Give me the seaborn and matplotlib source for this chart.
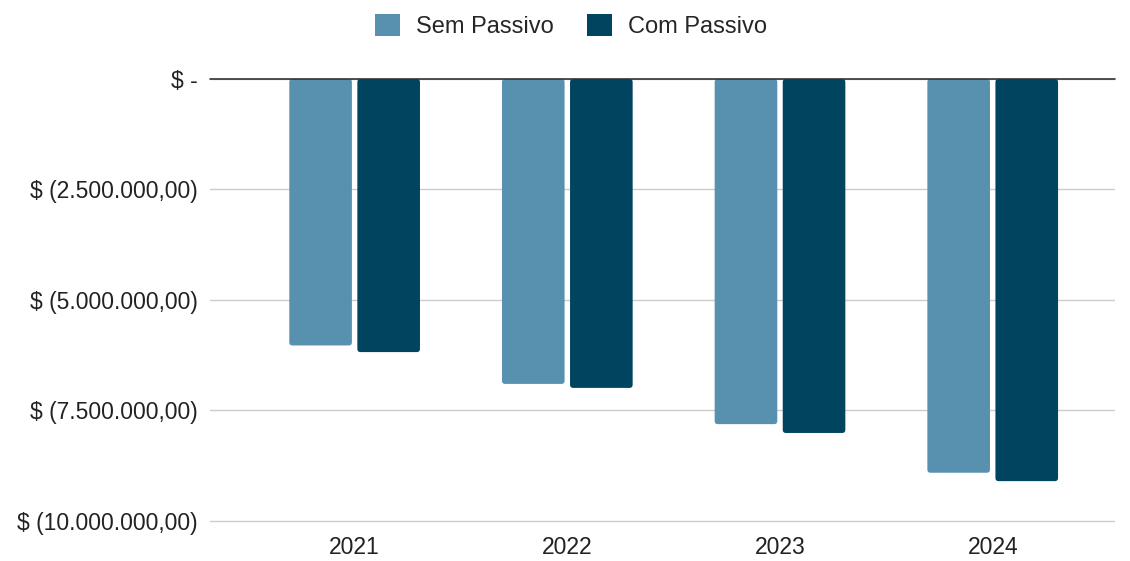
import numpy as np
import pandas as pd
import matplotlib.pyplot as plt
import seaborn as sns
from matplotlib.patches import FancyBboxPatch
from matplotlib.ticker import FuncFormatter

# chart data
years = ["2021", "2022", "2023", "2024"]
sem_passivo = [-6030000, -6900000, -7810000, -8910000]
com_passivo = [-6180000, -6990000, -8010000, -9100000]
series_names = ["Sem Passivo", "Com Passivo"]
colors = ["#5891AF", "#00445F"]

df = pd.DataFrame({
    "ano": years * 2,
    "valor": sem_passivo + com_passivo,
    "serie": [series_names[0]] * 4 + [series_names[1]] * 4,
})

sns.set_theme(style="white")
plt.rcParams["font.family"] = ["Liberation Sans", "DejaVu Sans"]

fig = plt.figure(figsize=(11.3, 5.61), dpi=100)
ax = fig.add_axes([210 / 1130, 37 / 561, 905 / 1130, 445 / 561])

sns.barplot(data=df, x="ano", y="valor", hue="serie", palette=colors,
            width=0.64, gap=0.08, ax=ax, saturation=1, legend=False)

# replace bars with slightly rounded ones
for p in list(ax.patches):
    x, y = p.get_x(), p.get_y()
    w, h = p.get_width(), p.get_height()
    rb = FancyBboxPatch((x, y + h), w, -h, boxstyle="round,pad=0,rounding_size=0.015",
                        mutation_aspect=4.8e6, facecolor=p.get_facecolor(),
                        edgecolor="none", linewidth=0)
    p.remove()
    ax.add_patch(rb)

ax.set_xlim(-0.68, 3.575)
ax.set_ylim(-10070000, 0)
ax.set_yticks([0, -2500000, -5000000, -7500000, -10000000])


def fmt(v, pos):
    if v == 0:
        return "$ -"
    s = f"{abs(v):,.2f}".replace(",", "X").replace(".", ",").replace("X", ".")
    return f"$ ({s})"


ax.yaxis.set_major_formatter(FuncFormatter(fmt))
ax.grid(axis="y", color="#cccccc", linewidth=1)
ax.set_axisbelow(True)
ax.axhline(0, color="#333333", linewidth=1.2, zorder=5, clip_on=False)
for s in ax.spines.values():
    s.set_visible(False)
ax.tick_params(axis="both", length=0, labelsize=16.5, colors="#222222")
ax.tick_params(axis="y", pad=9)
ax.tick_params(axis="x", pad=9)
ax.set_xlabel("")
ax.set_ylabel("")

handles = [plt.Rectangle((0, 0), 1, 1, facecolor=c, edgecolor="none") for c in colors]
fig.legend(handles, series_names, loc="center", bbox_to_anchor=(571 / 1130, 1 - 26 / 561),
           ncol=2, frameon=False, fontsize=17, handlelength=1.05, handleheight=1.05,
           columnspacing=1.4, handletextpad=0.68)

fig.savefig("out.png", dpi=100)
